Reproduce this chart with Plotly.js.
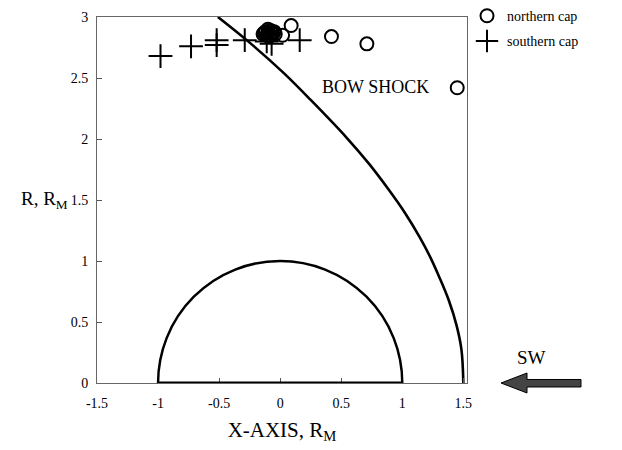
<!DOCTYPE html>
<html>
<head>
<meta charset="utf-8">
<script src="https://cdn.plot.ly/plotly-3.0.1.min.js"></script>
<style>html,body{margin:0;padding:0;background:#fff;}#chart{width:622px;height:450px;}</style>
</head>
<body>
<div id="chart"></div>
<script>
// Bow shock curve points
const bowX = [-0.51, -0.25, 0.03, 0.25, 0.545, 0.725, 0.885, 1.025, 1.14, 1.23, 1.30, 1.38, 1.445, 1.485, 1.50];
const bowY = [3.0, 2.79, 2.54, 2.32, 2.01, 1.80, 1.59, 1.39, 1.20, 1.03, 0.875, 0.68, 0.47, 0.27, 0.0];

// Northern cap (open circles)
const northX = [0.09, 0.02, 0.42, 0.71, 1.45,
  -0.14, -0.12, -0.1, -0.08, -0.06, -0.11, -0.09, -0.07, -0.05, -0.13, -0.1, -0.04, -0.08];
const northY = [2.93, 2.85, 2.84, 2.78, 2.42,
  2.86, 2.88, 2.87, 2.89, 2.86, 2.85, 2.84, 2.87, 2.88, 2.87, 2.9, 2.86, 2.85];

// Southern cap (crosses)
const southX = [-0.98, -0.73, -0.52, -0.52, -0.29, -0.11, -0.07, 0.16];
const southY = [2.68, 2.76, 2.81, 2.77, 2.81, 2.80, 2.78, 2.81];

// Planet radius (R_M)
const planetR = 1;

const xTicks = [-1.5, -1, -0.5, 0, 0.5, 1, 1.5];
const yTicks = [0, 0.5, 1, 1.5, 2, 2.5, 3];

const serif = 'Liberation Serif, Times New Roman, serif';

const traces = [
  {x: bowX, y: bowY, mode: 'lines', line: {color: '#000', width: 2.6, shape: 'spline', smoothing: 1},
   showlegend: false, hoverinfo: 'skip'},
  {x: northX, y: northY, mode: 'markers', name: 'northern cap', legendgroup: 'n',
   marker: {symbol: 'circle-open', size: 13, color: '#000', line: {width: 2, color: '#000'}}, cliponaxis: false},
  {x: southX, y: southY, mode: 'markers', name: 'southern cap', legendgroup: 's',
   marker: {symbol: 'cross-thin-open', size: 17, color: '#000', line: {width: 2, color: '#000'}}, cliponaxis: false}
];

function px2paperX(p){ return (p - 97) / 370; }
function px2paperY(p){ return (383 - p) / 366; }
const arrowPts = [[501,383],[527,373],[527,379.5],[581,379.5],[581,387],[527,387],[527,393]];
let arrowPath = 'M ' + arrowPts.map(p => px2paperX(p[0]).toFixed(4) + ',' + px2paperY(p[1]).toFixed(4)).join(' L ') + ' Z';

const layout = {
  width: 622, height: 450,
  margin: {l: 97, r: 155, t: 17, b: 67, autoexpand: false},
  paper_bgcolor: '#fff', plot_bgcolor: '#fff',
  font: {family: serif, color: '#000', size: 14},
  showlegend: true,
  legend: {x: 1.0, y: 1.046, xanchor: 'left', yanchor: 'top', font: {family: serif, size: 14, color: '#000'},
           bgcolor: 'rgba(0,0,0,0)', tracegroupgap: 4, itemwidth: 30},
  xaxis: {range: [-1.5, 1.53], tickvals: xTicks, ticktext: xTicks.map(String), ticks: 'inside', ticklen: 5,
          tickcolor: '#555', showline: true, linecolor: '#666', linewidth: 1, mirror: true, showgrid: false, zeroline: false,
          automargin: false,
          tickfont: {family: serif, size: 14, color: '#000'}, ticklabelstandoff: 7,
          title: {text: 'X-AXIS, R<sub>M</sub>', font: {family: serif, size: 21, color: '#000'}, standoff: 12}},
  yaxis: {range: [0, 3], tickvals: yTicks, ticktext: yTicks.map(String), ticks: 'inside', ticklen: 5,
          tickcolor: '#555', showline: true, linecolor: '#666', linewidth: 1, mirror: true, showgrid: false, zeroline: false,
          automargin: false,
          tickfont: {family: serif, size: 14, color: '#000'}, ticklabelstandoff: 5},
  shapes: [
    {type: 'circle', xref: 'x', yref: 'y', x0: -planetR, x1: planetR, y0: -planetR, y1: planetR,
     line: {color: '#000', width: 2.5}},
    {type: 'line', xref: 'x', yref: 'y', x0: -planetR, x1: planetR, y0: 0, y1: 0, line: {color: '#000', width: 3}},
    {type: 'path', xref: 'paper', yref: 'paper', path: arrowPath, fillcolor: '#444', line: {color: '#000', width: 1}}
  ],
  annotations: [
    {xref: 'paper', yref: 'y', x: px2paperX(70), xanchor: 'right', y: 1.5, yanchor: 'middle',
     text: 'R, R<sub>M</sub>', showarrow: false, font: {family: serif, size: 19, color: '#000'}},
    {xref: 'x', yref: 'y', x: 0.78, y: 2.43, text: 'BOW SHOCK', showarrow: false,
     font: {family: serif, size: 18, color: '#000'}},
    {xref: 'paper', yref: 'paper', x: px2paperX(548), y: px2paperY(357), yanchor: 'middle', text: 'SW', showarrow: false,
     font: {family: serif, size: 19, color: '#000'}}
  ]
};

Plotly.newPlot('chart', traces, layout, {displayModeBar: false, staticPlot: true});
</script>
</body>
</html>
